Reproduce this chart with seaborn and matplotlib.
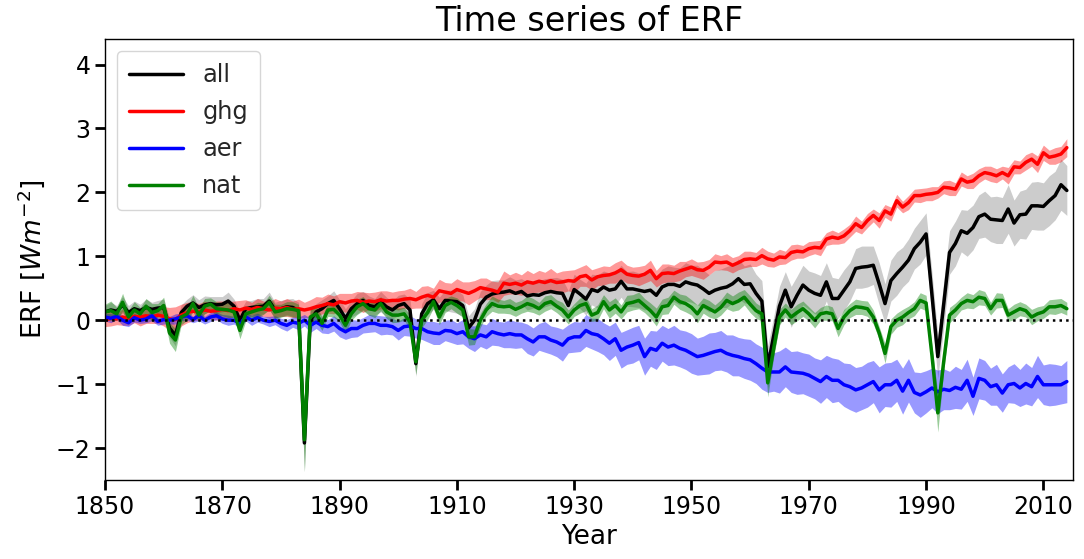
import numpy as np
import pandas as pd
import matplotlib
matplotlib.use("Agg")
import matplotlib.pyplot as plt
import seaborn as sns

years = list(range(1850, 2015))

ghg = [0.00, 0.03, 0.02, 0.05, 0.03, 0.06, 0.05, 0.07, 0.05, 0.08,
       0.06, 0.02, 0.01, 0.08, 0.12, 0.14, 0.13, 0.16, 0.14, 0.15,
       0.17, 0.15, 0.18, 0.16, 0.19, 0.17, 0.20, 0.18, 0.16, 0.19,
       0.18, 0.20, 0.17, 0.18, 0.16, 0.18, 0.21, 0.23, 0.26, 0.24,
       0.29, 0.27, 0.30, 0.31, 0.28, 0.30, 0.29, 0.32, 0.30, 0.31,
       0.31, 0.33, 0.34, 0.32, 0.36, 0.39, 0.36, 0.46, 0.44, 0.42,
       0.48, 0.45, 0.42, 0.46, 0.51, 0.49, 0.47, 0.44, 0.58, 0.56,
       0.58, 0.55, 0.60, 0.58, 0.61, 0.59, 0.62, 0.59, 0.60, 0.62,
       0.61, 0.68, 0.70, 0.63, 0.68, 0.70, 0.71, 0.74, 0.79, 0.72,
       0.70, 0.69, 0.72, 0.78, 0.65, 0.73, 0.74, 0.73, 0.77, 0.80,
       0.83, 0.79, 0.78, 0.83, 0.91, 0.90, 0.91, 0.86, 0.90, 0.95,
       0.96, 0.95, 1.01, 0.96, 0.94, 0.99, 0.98, 1.06, 1.08, 1.07,
       1.12, 1.14, 1.13, 1.27, 1.30, 1.28, 1.32, 1.40, 1.51, 1.45,
       1.56, 1.64, 1.56, 1.71, 1.66, 1.87, 1.77, 1.84, 1.95, 1.95,
       1.97, 1.98, 2.00, 2.08, 2.07, 2.05, 2.21, 2.16, 2.18, 2.26,
       2.31, 2.29, 2.26, 2.31, 2.26, 2.40, 2.39, 2.47, 2.52, 2.44,
       2.62, 2.55, 2.57, 2.60, 2.70]

aer = [0.05, 0.03, 0.06, 0.00, -0.04, 0.04, 0.00, 0.02, 0.07, -0.02,
       0.01, 0.00, 0.02, 0.05, 0.07, 0.01, 0.07, 0.00, 0.05, 0.07,
       0.02, 0.00, 0.00, -0.05, 0.05, 0.00, 0.04, 0.00, -0.02, 0.00,
       -0.05, -0.08, -0.03, -0.05, 0.00, -0.08, -0.03, -0.08, -0.10, -0.05,
       -0.13, -0.18, -0.13, -0.13, -0.08, -0.05, -0.05, -0.08, -0.08, -0.10,
       -0.16, -0.10, -0.09, -0.13, -0.13, -0.18, -0.20, -0.21, -0.16, -0.17,
       -0.21, -0.18, -0.26, -0.29, -0.23, -0.26, -0.18, -0.21, -0.23, -0.21,
       -0.23, -0.23, -0.29, -0.34, -0.26, -0.26, -0.31, -0.34, -0.39, -0.29,
       -0.26, -0.26, -0.16, -0.21, -0.23, -0.29, -0.36, -0.29, -0.47, -0.42,
       -0.39, -0.35, -0.57, -0.44, -0.47, -0.36, -0.42, -0.39, -0.44, -0.47,
       -0.52, -0.57, -0.55, -0.52, -0.49, -0.47, -0.52, -0.55, -0.57, -0.60,
       -0.62, -0.68, -0.75, -0.81, -0.81, -0.81, -0.73, -0.81, -0.82, -0.83,
       -0.86, -0.91, -0.96, -0.88, -0.94, -0.94, -1.01, -1.04, -1.09, -1.06,
       -1.01, -0.96, -1.09, -1.01, -1.01, -0.94, -1.11, -0.94, -1.13, -1.17,
       -1.12, -1.06, -1.12, -1.08, -1.10, -1.05, -1.08, -0.94, -1.19, -0.91,
       -0.94, -1.04, -1.01, -1.14, -1.01, -0.99, -1.06, -0.99, -1.04, -0.88,
       -1.01, -1.01, -1.01, -1.01, -0.96]

nat = [0.13, 0.15, 0.10, 0.28, 0.05, 0.16, 0.10, 0.22, 0.12, 0.15,
       0.23, -0.20, -0.31, 0.05, 0.10, 0.26, 0.08, 0.22, 0.25, 0.18,
       0.17, 0.16, 0.13, -0.16, 0.10, 0.13, 0.16, 0.18, 0.28, 0.13,
       0.15, 0.18, 0.17, 0.15, -1.87, 0.05, 0.10, -0.05, 0.16, 0.17,
       0.08, -0.08, 0.10, 0.21, 0.26, 0.18, 0.16, 0.26, 0.13, 0.08,
       0.08, 0.10, -0.03, -0.65, 0.00, 0.12, 0.29, 0.05, 0.23, 0.28,
       0.23, 0.16, -0.26, -0.26, 0.00, 0.16, 0.26, 0.22, 0.21, 0.22,
       0.17, 0.21, 0.26, 0.23, 0.18, 0.26, 0.29, 0.22, 0.16, 0.05,
       0.16, 0.23, 0.26, 0.08, 0.12, 0.29, 0.16, 0.23, 0.13, 0.26,
       0.28, 0.31, 0.23, 0.15, 0.05, 0.21, 0.23, 0.36, 0.29, 0.26,
       0.20, 0.10, 0.23, 0.18, 0.13, 0.20, 0.31, 0.26, 0.30, 0.36,
       0.25, 0.15, 0.10, -0.98, -0.45, 0.05, 0.16, 0.05, 0.12, 0.18,
       0.10, 0.00, 0.10, 0.12, 0.10, -0.13, 0.05, 0.15, 0.21, 0.20,
       0.18, 0.05, -0.20, -0.52, -0.10, 0.00, 0.05, 0.12, 0.18, 0.31,
       0.27, -0.55, -1.45, -0.65, 0.08, 0.16, 0.26, 0.31, 0.29, 0.36,
       0.34, 0.18, 0.31, 0.31, 0.08, 0.13, 0.18, 0.15, 0.05, 0.10,
       0.13, 0.21, 0.21, 0.23, 0.18]

all_ = [0.13, 0.16, 0.14, 0.24, 0.12, 0.18, 0.15, 0.20, 0.17, 0.19,
        0.20, -0.12, -0.24, 0.12, 0.22, 0.27, 0.20, 0.24, 0.26, 0.24,
        0.25, 0.30, 0.22, 0.00, 0.18, 0.20, 0.21, 0.22, 0.30, 0.16,
        0.18, 0.21, 0.20, 0.15, -1.92, 0.00, 0.13, 0.18, 0.26, 0.31,
        0.18, 0.03, 0.18, 0.26, 0.31, 0.23, 0.21, 0.29, 0.21, 0.16,
        0.23, 0.26, 0.16, -0.68, 0.10, 0.26, 0.32, 0.18, 0.31, 0.30,
        0.29, 0.23, -0.12, 0.00, 0.25, 0.36, 0.41, 0.43, 0.44, 0.46,
        0.42, 0.45, 0.38, 0.40, 0.39, 0.43, 0.45, 0.43, 0.42, 0.23,
        0.48, 0.41, 0.33, 0.48, 0.45, 0.52, 0.47, 0.49, 0.61, 0.49,
        0.49, 0.47, 0.45, 0.47, 0.39, 0.52, 0.56, 0.56, 0.53, 0.60,
        0.57, 0.55, 0.49, 0.42, 0.47, 0.50, 0.52, 0.57, 0.65, 0.56,
        0.57, 0.42, 0.30, -0.73, -0.25, 0.22, 0.47, 0.21, 0.39, 0.55,
        0.47, 0.42, 0.39, 0.60, 0.34, 0.34, 0.47, 0.60, 0.81, 0.83,
        0.84, 0.86, 0.57, 0.26, 0.62, 0.73, 0.83, 0.94, 1.12, 1.22,
        1.35, 0.40, -0.57, 0.24, 1.06, 1.20, 1.40, 1.36, 1.45, 1.62,
        1.66, 1.58, 1.57, 1.56, 1.74, 1.52, 1.65, 1.66, 1.79, 1.79,
        1.78, 1.87, 1.95, 2.12, 2.03]

# half-widths of the shaded spread
ghg_err = [.10, .12, .09, .13, .11, .10, .14, .12, .10, .13,
           .15, .18, .20, .17, .16, .15, .13, .14, .12, .15,
           .13, .14, .12, .15, .13, .11, .14, .12, .13, .15,
           .12, .14, .13, .15, .12, .14, .16, .13, .15, .14,
           .13, .15, .12, .14, .16, .13, .15, .14, .16, .13,
           .15, .14, .16, .13, .17, .15, .14, .18, .15, .16,
           .17, .15, .18, .16, .15, .17, .14, .16, .19, .15,
           .17, .16, .18, .15, .17, .16, .19, .15, .17, .16,
           .18, .15, .17, .16, .14, .15, .13, .16, .15, .14,
           .13, .15, .14, .16, .13, .15, .14, .13, .15, .12,
           .13, .12, .14, .12, .13, .11, .13, .12, .11, .13,
           .12, .11, .13, .12, .11, .12, .10, .12, .11, .10,
           .11, .10, .12, .10, .11, .09, .11, .10, .12, .10,
           .11, .10, .12, .10, .11, .10, .09, .11, .10, .11,
           .10, .11, .09, .10, .12, .10, .11, .10, .12, .11,
           .10, .12, .11, .10, .13, .11, .10, .12, .11, .13,
           .12, .11, .13, .12, .14]

aer_err = [.06, .07, .05, .08, .06, .07, .05, .06, .08, .06,
           .07, .06, .08, .06, .07, .05, .08, .06, .07, .06,
           .07, .08, .06, .07, .06, .08, .07, .06, .08, .07,
           .08, .09, .08, .10, .09, .11, .10, .12, .11, .12,
           .13, .12, .14, .13, .12, .14, .13, .15, .14, .13,
           .15, .14, .16, .15, .17, .16, .18, .17, .16, .18,
           .17, .19, .18, .20, .18, .19, .21, .19, .20, .22,
           .21, .20, .23, .22, .21, .24, .22, .23, .25, .22,
           .24, .23, .25, .24, .26, .25, .27, .26, .28, .27,
           .28, .27, .29, .28, .30, .28, .29, .31, .29, .30,
           .31, .29, .30, .32, .30, .31, .29, .32, .30, .31,
           .32, .31, .33, .32, .30, .33, .31, .32, .34, .32,
           .33, .32, .34, .33, .35, .33, .34, .36, .35, .34,
           .35, .33, .36, .34, .35, .33, .36, .34, .32, .35,
           .33, .31, .34, .32, .30, .33, .31, .33, .30, .32,
           .31, .29, .32, .30, .28, .31, .29, .32, .30, .33,
           .31, .33, .32, .30, .33]

nat_err = [.12, .15, .10, .14, .11, .13, .10, .12, .14, .11,
           .13, .16, .18, .12, .10, .13, .11, .12, .10, .11,
           .10, .12, .09, .13, .11, .10, .12, .09, .11, .12,
           .10, .11, .12, .10, .50, .15, .12, .11, .10, .12,
           .11, .13, .10, .12, .11, .10, .12, .11, .10, .12,
           .11, .10, .12, .20, .12, .11, .10, .12, .11, .10,
           .12, .11, .13, .12, .11, .10, .12, .11, .10, .12,
           .11, .10, .12, .11, .10, .12, .11, .10, .12, .11,
           .10, .12, .11, .10, .12, .11, .13, .12, .11, .13,
           .12, .13, .11, .12, .14, .12, .13, .11, .12, .13,
           .12, .14, .12, .13, .11, .12, .13, .12, .14, .12,
           .13, .12, .11, .22, .14, .12, .11, .12, .13, .12,
           .11, .12, .10, .12, .11, .13, .12, .11, .12, .11,
           .12, .11, .10, .15, .12, .11, .12, .10, .11, .12,
           .12, .15, .30, .15, .12, .11, .10, .12, .11, .12,
           .11, .10, .12, .11, .10, .12, .11, .10, .12, .11,
           .10, .11, .12, .11, .10]

all_err = [.10, .12, .09, .13, .11, .12, .10, .13, .11, .12,
           .13, .15, .16, .12, .11, .13, .12, .14, .11, .13,
           .12, .14, .11, .13, .12, .11, .13, .12, .14, .12,
           .13, .12, .14, .13, .45, .16, .13, .14, .12, .15,
           .14, .15, .13, .16, .14, .15, .13, .16, .15, .14,
           .16, .15, .17, .20, .16, .17, .15, .18, .16, .17,
           .18, .17, .19, .18, .20, .19, .21, .20, .19, .22,
           .21, .20, .22, .21, .23, .22, .21, .24, .22, .23,
           .24, .23, .25, .24, .26, .25, .27, .26, .25, .27,
           .28, .27, .29, .28, .30, .28, .29, .27, .29, .30,
           .29, .31, .30, .29, .31, .30, .32, .30, .31, .29,
           .31, .30, .32, .33, .30, .31, .29, .32, .30, .31,
           .30, .32, .31, .30, .33, .31, .32, .30, .31, .33,
           .32, .30, .33, .31, .32, .34, .31, .33, .32, .34,
           .33, .35, .34, .36, .34, .35, .33, .36, .35, .34,
           .36, .35, .37, .36, .38, .36, .37, .39, .37, .38,
           .37, .39, .38, .40, .39]

series_names = ["all", "ghg", "aer", "nat"]
series_vals = [all_, ghg, aer, nat]
series_err = [all_err, ghg_err, aer_err, nat_err]
series_colors = ["black", "red", "blue", "green"]
band_alpha = [0.2, 0.4, 0.4, 0.4]

sns.set_theme(style="ticks")
plt.rcParams["font.family"] = ["DejaVu Sans"]
plt.rcParams["mathtext.fontset"] = "dejavusans"

fig = plt.figure(figsize=(10.84, 5.59), dpi=100)
ax = fig.add_axes([105 / 1084, 1 - 480 / 559, (1072.7 - 105) / 1084, (480 - 39) / 559])

yrs = np.array(years)
for name, vals, err, col, a in zip(series_names, series_vals, series_err, series_colors, band_alpha):
    v = np.array(vals)
    e = np.array(err)
    df = pd.DataFrame({"Year": yrs, "ERF": v})
    ax.fill_between(yrs, v - e, v + e, color=col, alpha=a, linewidth=0)
    sns.lineplot(data=df, x="Year", y="ERF", color=col, linewidth=2.5, label=name, ax=ax)

ax.axhline(0, color="black", linestyle=":", linewidth=1.8, zorder=10)

ax.set_xlim(1850, 2015)
ax.set_ylim(-2.5, 4.4)
ax.set_xticks(list(range(1850, 2011, 20)))
ax.set_yticks([-2, -1, 0, 1, 2, 3, 4])
ax.set_yticklabels(["\u22122", "\u22121", "0", "1", "2", "3", "4"])
ax.tick_params(axis="both", which="major", labelsize=17, length=7, width=2, color="black", labelcolor="black")
for s in ax.spines.values():
    s.set_color("black")
    s.set_linewidth(1.0)

ax.set_xlabel("Year", fontsize=19, color="black", labelpad=4)
ax.set_ylabel(r"ERF [$Wm^{-2}$]", fontsize=19, color="black", labelpad=6)
ax.set_title("Time series of ERF", fontsize=24, color="black", pad=6)

leg = ax.legend(loc="upper left", fontsize=17.3, frameon=True, handlelength=2.25,
                labelspacing=0.54, borderpad=0.5)
for line in leg.get_lines():
    line.set_linewidth(2.5)

fig.savefig("out.png", dpi=100)
